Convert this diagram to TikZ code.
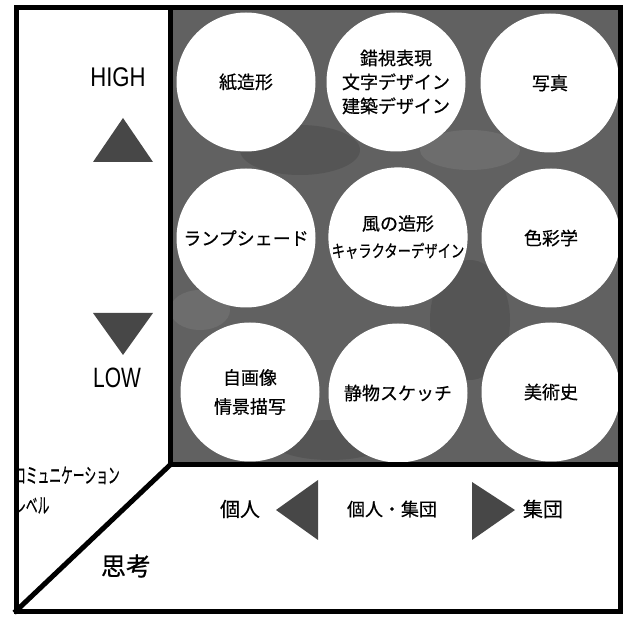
\documentclass[tikz,border=0pt]{standalone}
\usepackage{fontspec}
\usepackage{graphicx}
\setmainfont{Noto Sans CJK JP}[FakeBold=0.5]
\newfontfamily\latinfont{Liberation Sans}
\begin{document}
\begin{tikzpicture}[x=1pt,y=-1pt,
  circ/.style={circle,fill=white,minimum size=139pt,inner sep=0pt,align=center,
    font=\fontsize{18}{24}\selectfont},
  frameline/.style={line width=5pt,line cap=rect,line join=miter},
  tri/.style={fill=black!72},
  lbl/.style={inner sep=0pt,anchor=center}]
\useasboundingbox (0,0) rectangle (627,617);
\fill[white] (0,0) rectangle (627,617);
% dark field
\fill[black!62] (170,8) rectangle (620,465);
\begin{scope}
\clip (170,8) rectangle (620,465);
\fill[black,opacity=0.12] (300,150) ellipse (60 and 25);
\fill[black,opacity=0.12] (470,320) ellipse (40 and 60);
\fill[black,opacity=0.12] (330,440) ellipse (60 and 20);
\fill[white,opacity=0.08] (470,150) ellipse (50 and 20);
\fill[white,opacity=0.08] (200,310) ellipse (30 and 20);
\node[circ] (c11) at (246,82) {紙造形};
\node[circ] (c12) at (396,82) {錯視表現\\文字デザイン\\建築デザイン};
\node[circ] (c13) at (550,83) {写真};
\node[circ] (c21) at (246,238) {ランプシェード};
\node[circ] (c22) at (398,237) {風の造形\\[3pt]\scalebox{0.74}[0.95]{キャラクターデザイン}};
\node[circ] (c23) at (551,238) {色彩学};
\node[circ] (c31) at (250,392) {自画像\\[5pt]情景描写};
\node[circ] (c32) at (398,393) {静物スケッチ};
\node[circ] (c33) at (551,392) {美術史};
\end{scope}
% left panel
\node[lbl,font=\latinfont\fontsize{27}{27}\selectfont,xscale=0.82] (high) at (118,77) {HIGH};
\fill[tri] (123,118) -- (153,162) -- (93,162) -- cycle;
\fill[tri] (93,313) -- (153,313) -- (123,355) -- cycle;
\node[lbl,font=\latinfont\fontsize{28}{28}\selectfont,xscale=0.75] (low) at (117,378) {LOW};
\node[lbl,anchor=west,font=\fontsize{21}{30}\selectfont,xscale=0.56,align=left] (comm) at (14,490) {コミュニケーション\\レベル};
\node[lbl,font=\fontsize{25}{25}\selectfont] (think) at (126,566) {思考};
% bottom panel
\node[lbl,font=\fontsize{20}{20}\selectfont] (indiv) at (240,509) {個人};
\fill[tri] (276,510) -- (318,480) -- (318,540) -- cycle;
\node[lbl,font=\fontsize{18}{18}\selectfont] (both) at (392,509) {個人・集団};
\fill[tri] (472,482) -- (515,510) -- (472,540) -- cycle;
\node[lbl,font=\fontsize{20}{20}\selectfont] (group) at (543,509) {集団};
% frame
\draw[frameline] (16,8) rectangle (620,611);
\draw[frameline] (170,8) -- (170,465) -- (620,465);
\draw[frameline] (170,465) -- (16,611);
\end{tikzpicture}
\end{document}
